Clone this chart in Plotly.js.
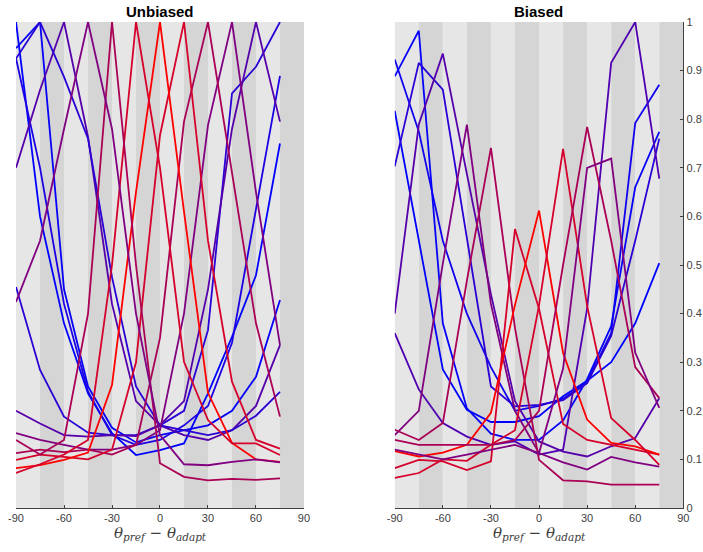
<!DOCTYPE html>
<html>
<head>
<meta charset="utf-8">
<script src="https://cdn.plot.ly/plotly-3.0.1.min.js"></script>
<style>html,body{margin:0;padding:0;background:#fff;}#chart{width:703px;height:552px;}</style>
</head>
<body>
<div id="chart"></div>
<script>
// orientation offsets (deg) at which each curve is sampled
const theta = [-90, -75, -60, -45, -30, -15, 0, 15, 30, 45, 60, 75];
const tickVals = [-90, -60, -30, 0, 30, 60, 90];
const tickText = ['-90', '-60', '-30', '0', '30', '60', '90'];
const yTickVals = [0, 0.1, 0.2, 0.3, 0.4, 0.5, 0.6, 0.7, 0.8, 0.9, 1];
const yTickText = ['0', '0.1', '0.2', '0.3', '0.4', '0.5', '0.6', '0.7', '0.8', '0.9', '1'];
const stripeEdges = [-90, -75, -60, -45, -30, -15, 0, 15, 30, 45, 60, 75, 90];

// preferred orientation of each neuron (sets the blue->red colour)
const prefU = [-90, -88, 80, -60, -75, 75, 60, 45, 30, 15, 0, -15, -30, -45];
// Unbiased population, normalised responses
const u1  = [1.000, 0.600, 0.380, 0.236, 0.154, 0.109, 0.119, 0.133, 0.236, 0.352, 0.479, 0.750];
const u2  = [0.946, 1.000, 0.450, 0.250, 0.165, 0.135, 0.150, 0.160, 0.170, 0.200, 0.270, 0.428];
const u3  = [0.925, 0.700, 0.420, 0.240, 0.150, 0.130, 0.140, 0.170, 0.210, 0.340, 0.615, 0.889];
const u4  = [0.700, 0.860, 1.000, 0.764, 0.420, 0.220, 0.170, 0.150, 0.140, 0.160, 0.210, 0.335];
const u5  = [0.925, 1.000, 0.887, 0.760, 0.475, 0.250, 0.170, 0.160, 0.150, 0.160, 0.190, 0.239];
const u6  = [0.455, 0.284, 0.188, 0.155, 0.150, 0.150, 0.170, 0.200, 0.366, 0.853, 0.908, 1.000];
const u7  = [0.200, 0.174, 0.150, 0.147, 0.150, 0.148, 0.171, 0.220, 0.450, 0.780, 1.000, 0.795];
const u8  = [0.154, 0.140, 0.130, 0.120, 0.120, 0.130, 0.160, 0.400, 0.788, 1.000, 0.650, 0.335];
const u9  = [0.113, 0.120, 0.115, 0.120, 0.110, 0.130, 0.350, 0.795, 1.000, 0.690, 0.380, 0.188];
const u10 = [0.099, 0.110, 0.105, 0.100, 0.120, 0.300, 0.767, 1.000, 0.550, 0.260, 0.140, 0.122];
const u11 = [0.082, 0.088, 0.099, 0.114, 0.253, 0.650, 1.000, 0.610, 0.237, 0.134, 0.100, 0.095];
const u12 = [0.072, 0.090, 0.110, 0.140, 0.500, 1.000, 0.700, 0.301, 0.181, 0.133, 0.133, 0.109];
const u13 = [0.140, 0.110, 0.140, 0.400, 1.000, 0.500, 0.092, 0.064, 0.057, 0.060, 0.058, 0.061];
const u14 = [0.424, 0.550, 0.780, 1.000, 0.780, 0.400, 0.150, 0.090, 0.088, 0.095, 0.100, 0.094];
const unbiased = [u1, u2, u3, u4, u5, u6, u7, u8, u9, u10, u11, u12, u13, u14];

// Biased population
const prefB = [84, -88, -90, -75, -60, 62, -45, -30, -15, 0, 15, 30, 45];
const b1  = [0.923, 0.775, 0.550, 0.400, 0.290, 0.200, 0.210, 0.225, 0.260, 0.360, 0.792, 0.871];
const b2  = [0.888, 0.982, 0.380, 0.205, 0.153, 0.140, 0.140, 0.180, 0.265, 0.374, 0.660, 0.774];
const b3  = [0.817, 0.550, 0.285, 0.202, 0.177, 0.177, 0.189, 0.230, 0.262, 0.300, 0.380, 0.504];
const b4  = [0.703, 0.916, 0.861, 0.557, 0.250, 0.209, 0.212, 0.222, 0.257, 0.354, 0.550, 0.760];
const b5  = [0.400, 0.789, 0.935, 0.686, 0.440, 0.220, 0.137, 0.116, 0.106, 0.127, 0.144, 0.226];
const b6  = [0.360, 0.244, 0.175, 0.147, 0.130, 0.137, 0.110, 0.120, 0.410, 0.916, 1.000, 0.678];
const b7  = [0.150, 0.200, 0.503, 0.789, 0.420, 0.200, 0.113, 0.094, 0.079, 0.105, 0.094, 0.085];
const b8  = [0.161, 0.140, 0.175, 0.468, 0.741, 0.370, 0.099, 0.057, 0.055, 0.048, 0.048, 0.048];
const b9  = [0.082, 0.099, 0.096, 0.078, 0.096, 0.574, 0.410, 0.173, 0.140, 0.130, 0.120, 0.110];
const b10 = [0.117, 0.106, 0.114, 0.130, 0.196, 0.418, 0.612, 0.319, 0.182, 0.134, 0.127, 0.110];
const b11 = [0.062, 0.072, 0.100, 0.097, 0.130, 0.160, 0.417, 0.739, 0.416, 0.185, 0.140, 0.089];
const b12 = [0.140, 0.130, 0.130, 0.130, 0.130, 0.140, 0.200, 0.500, 0.784, 0.550, 0.290, 0.226];
const b13 = [0.120, 0.110, 0.100, 0.110, 0.120, 0.130, 0.113, 0.287, 0.700, 0.719, 0.320, 0.206];
const biased = [b1, b2, b3, b4, b5, b6, b7, b8, b9, b10, b11, b12, b13];

function prefColor(p) {
  const f = Math.min(Math.abs(p), 90) / 90;
  return 'rgb(' + Math.round(255 * (1 - f)) + ',0,' + Math.round(255 * f) + ')';
}

const traces = [];
unbiased.forEach((ys, i) => traces.push({
  x: theta, y: ys, type: 'scatter', mode: 'lines', xaxis: 'x', yaxis: 'y',
  line: {color: prefColor(prefU[i]), width: 1.8}, hoverinfo: 'skip', showlegend: false
}));
biased.forEach((ys, i) => traces.push({
  x: theta, y: ys, type: 'scatter', mode: 'lines', xaxis: 'x2', yaxis: 'y2',
  line: {color: prefColor(prefB[i]), width: 1.8}, hoverinfo: 'skip', showlegend: false
}));

const shapes = [];
['x', 'x2'].forEach((xr, k) => {
  const yr = k === 0 ? 'y' : 'y2';
  for (let i = 0; i < stripeEdges.length - 1; i++) {
    shapes.push({type: 'rect', xref: xr, yref: yr, layer: 'below',
      x0: stripeEdges[i], x1: stripeEdges[i + 1], y0: 0, y1: 1,
      fillcolor: i % 2 === 0 ? '#e6e6e6' : '#d5d5d5', line: {width: 0}});
  }
});

const tickFont = {family: 'Liberation Sans, Arial, sans-serif', size: 11, color: '#404040'};
const xTitle = '<i>θ</i><sub><i>pref</i></sub> − <i>θ</i><sub><i>adapt</i></sub>';
const xTitleFont = {family: 'DejaVu Serif, Liberation Serif, serif', size: 15, color: '#404040'};
const xCommon = {range: [-90, 90], tickvals: tickVals, ticktext: tickText, tickfont: tickFont,
  showgrid: false, zeroline: false, showline: true, linecolor: '#404040', linewidth: 1,
  ticks: 'inside', ticklen: 3, tickcolor: '#404040', fixedrange: true,
  title: {text: xTitle, font: xTitleFont, standoff: 4}};

const layout = {
  width: 703, height: 552, margin: {l: 0, r: 0, t: 0, b: 0},
  paper_bgcolor: '#ffffff', plot_bgcolor: 'rgba(0,0,0,0)', showlegend: false,
  xaxis: Object.assign({}, xCommon, {domain: [0.0228, 0.4324], anchor: 'y'}),
  xaxis2: Object.assign({}, xCommon, {domain: [0.5615, 0.9720], anchor: 'y2'}),
  yaxis: {domain: [0.0797, 0.9601], range: [0, 1], showticklabels: false, showline: false, ticks: '',
    showgrid: false, zeroline: false, fixedrange: true, anchor: 'x'},
  yaxis2: {domain: [0.0797, 0.9601], range: [0, 1], anchor: 'x2', side: 'right',
    tickvals: yTickVals, ticktext: yTickText, tickfont: tickFont, showgrid: false, zeroline: false,
    showline: true, linecolor: '#404040', linewidth: 1, ticks: 'inside', ticklen: 3, tickcolor: '#404040',
    fixedrange: true},
  shapes: shapes,
  annotations: [
    {text: '<b>Unbiased</b>', xref: 'paper', yref: 'paper', x: 0.2276, y: 0.98, xanchor: 'center', yanchor: 'middle',
     showarrow: false, font: {family: 'Liberation Sans, Arial, sans-serif', size: 15, color: '#000'}},
    {text: '<b>Biased</b>', xref: 'paper', yref: 'paper', x: 0.7667, y: 0.98, xanchor: 'center', yanchor: 'middle',
     showarrow: false, font: {family: 'Liberation Sans, Arial, sans-serif', size: 15, color: '#000'}}
  ]
};

Plotly.newPlot('chart', traces, layout, {displayModeBar: false, staticPlot: true});
</script>
</body>
</html>
